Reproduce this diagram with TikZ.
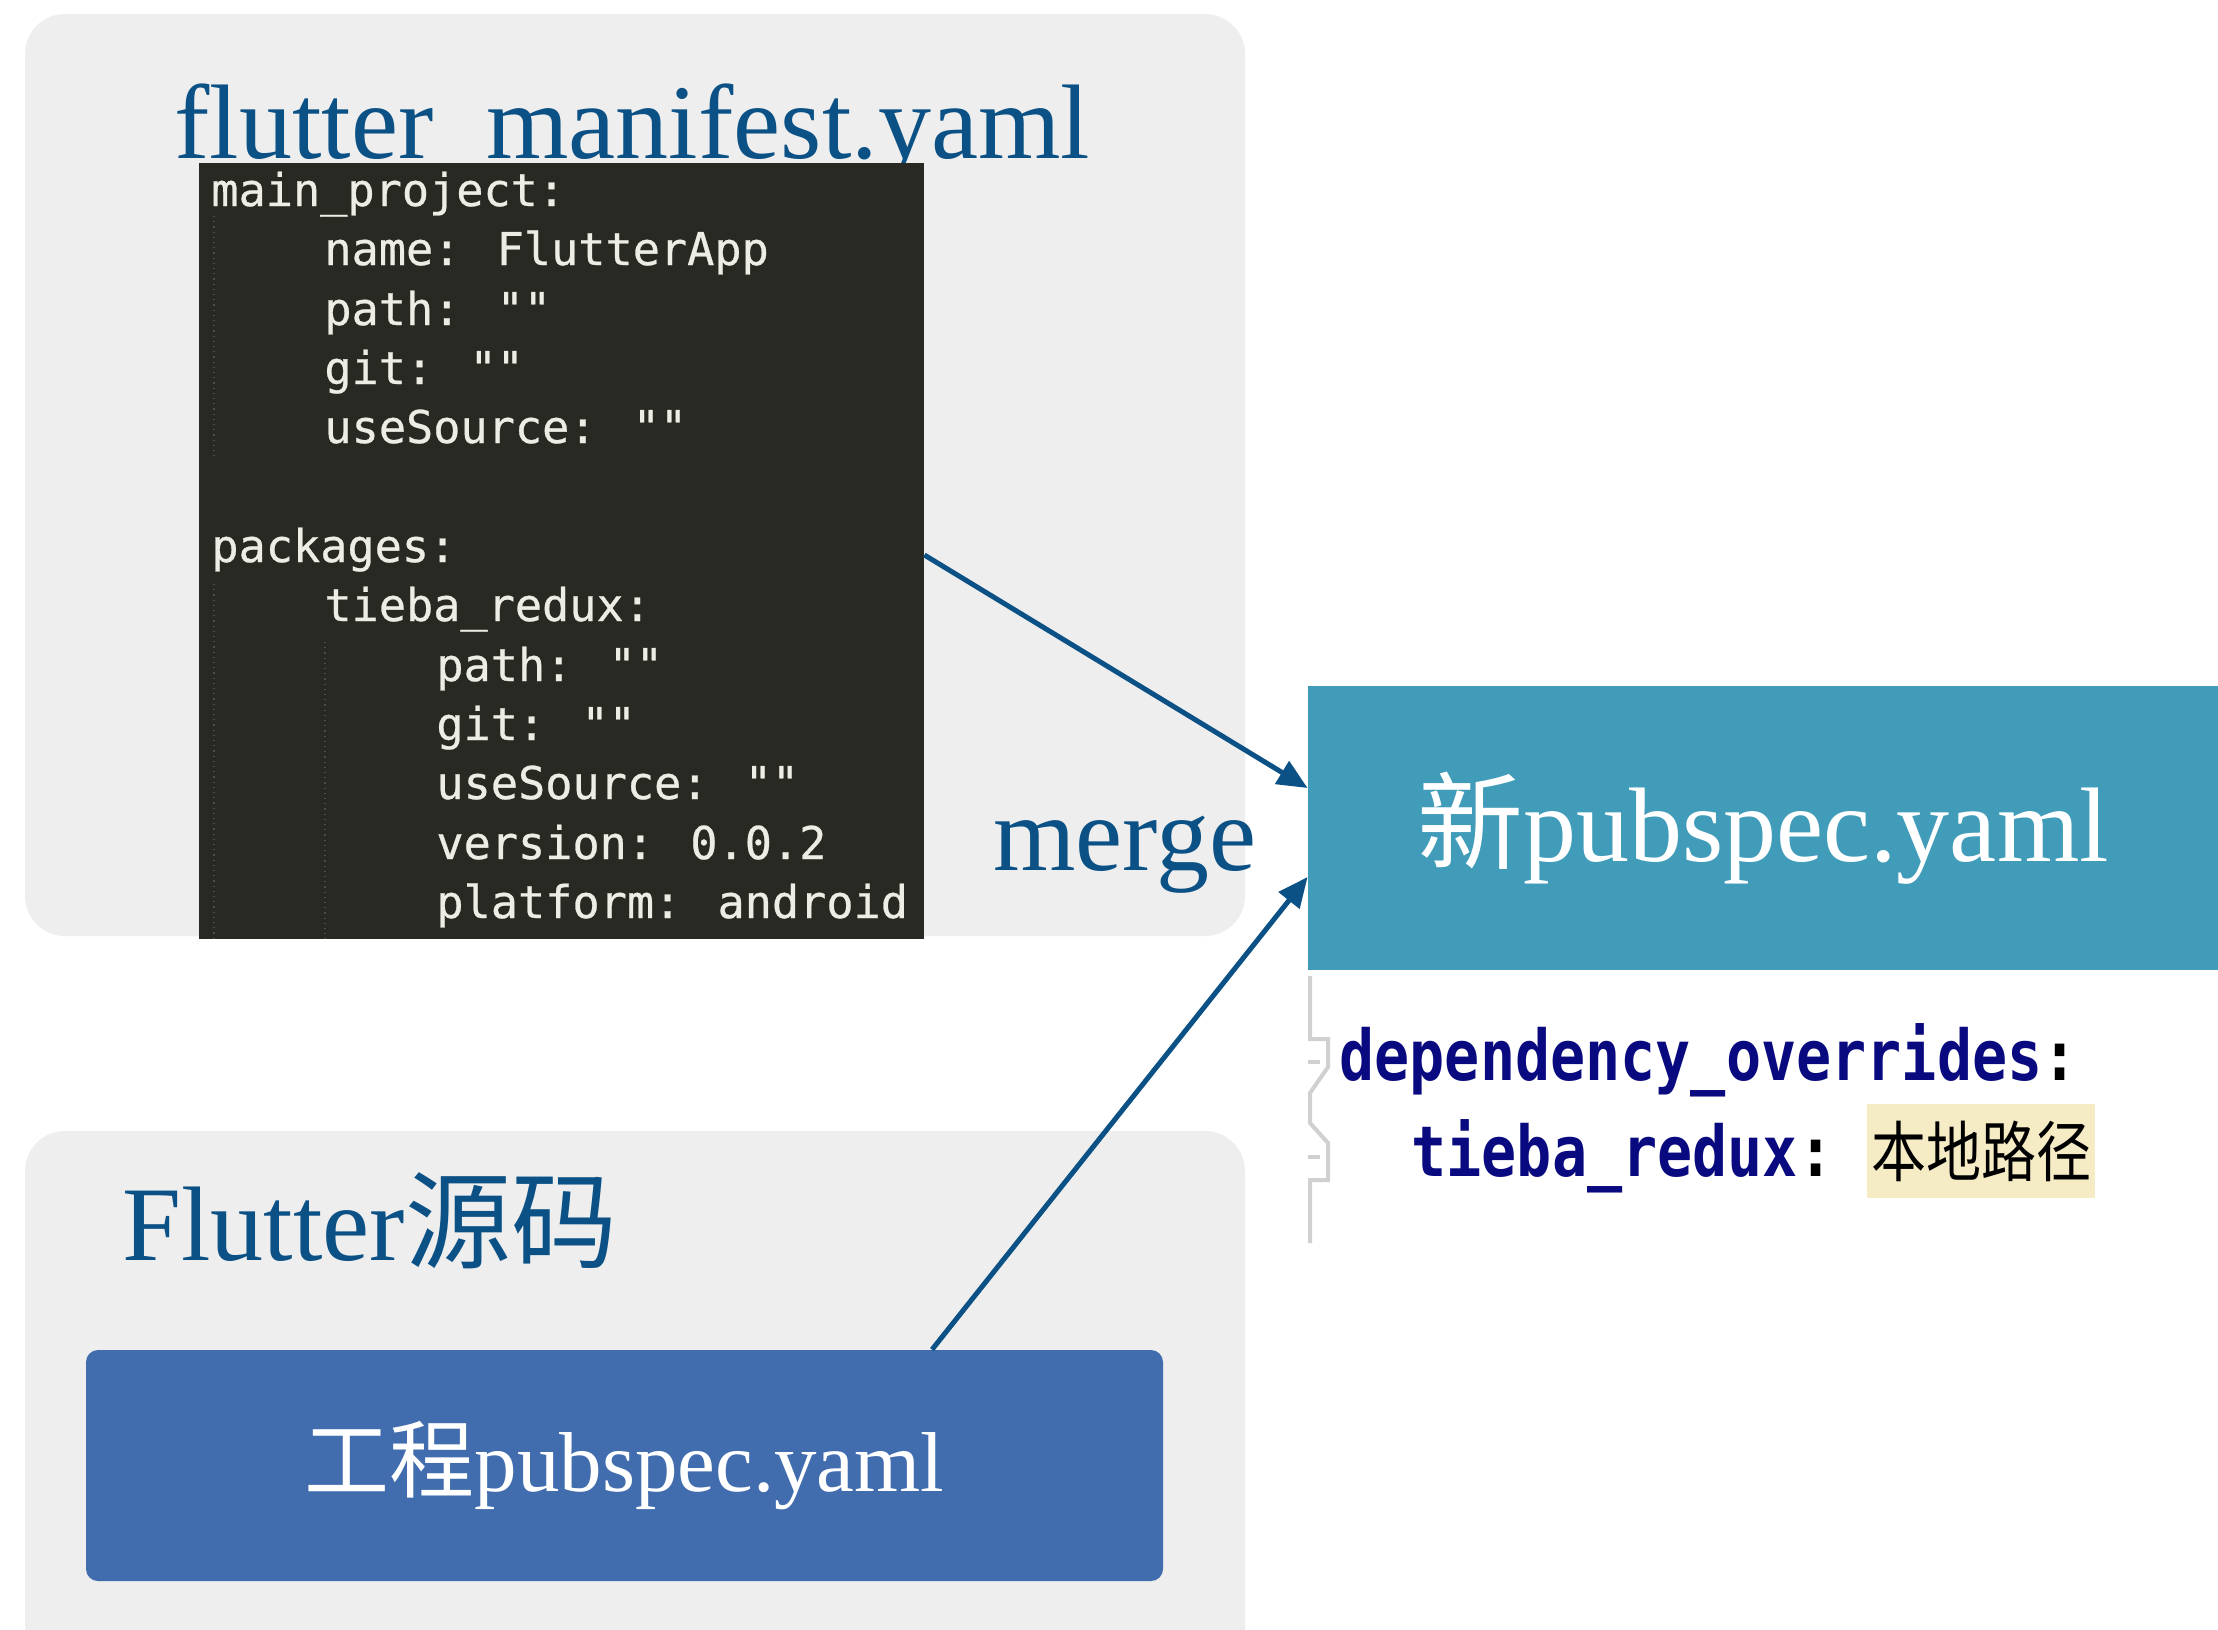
\documentclass[tikz,border=0pt]{standalone}
\usepackage{fontspec}
\usepackage{graphicx}
\setmainfont{Liberation Serif}
\newfontfamily\cjk{Noto Sans CJK SC}
\newfontfamily\codefont[FakeBold=0.6]{DejaVu Sans Mono}
\newfontfamily\idefont{DejaVu Sans Mono}
\usetikzlibrary{arrows.meta,calc}
\definecolor{panelgray}{HTML}{EEEEEE}
\definecolor{titleblue}{HTML}{0B5185}
\definecolor{codebg}{HTML}{282923}
\definecolor{codefg}{HTML}{EDEDE5}
\definecolor{guide}{HTML}{4E4E48}
\definecolor{teal}{HTML}{409CB9}
\definecolor{projblue}{HTML}{416DAE}
\definecolor{navy}{HTML}{0A0A80}
\definecolor{hilite}{HTML}{F5EBC4}
\definecolor{foldgray}{HTML}{D0D0D0}
\tikzset{
  panel/.style={fill=panelgray, rounded corners=20pt},
  bigtitle/.style={anchor=base west, inner sep=0pt, text=titleblue, font=\fontsize{53pt}{60pt}\selectfont},
  codeline/.style={anchor=base west, inner sep=0pt, text=codefg, font=\codefont\fontsize{22.6pt}{28pt}\selectfont},
  ideline/.style={anchor=base west, inner sep=0pt, font=\idefont\bfseries\fontsize{29.2pt}{34pt}\selectfont},
  indentguide/.style={draw=guide, line width=0.6pt, dotted},
  mergearrow/.style={draw=titleblue, line width=2.5pt, -{Triangle[length=15pt,width=13pt]}},
}
\begin{document}
\begin{tikzpicture}[x=0.5pt,y=-0.5pt]
\useasboundingbox[fill=white] (0,0) rectangle (2218,1629);
% panels
\path[panel] (25,14) rectangle (1245,936);
\path[panel] (25,1131) rectangle (1245,1760);
% title top (underscore hidden under the code box, as in the reference)
\node[bigtitle] (title1) at (174,158) {flutter\_manifest.yaml};
% code box
\node[fill=codebg, minimum width=362.5pt, minimum height=388pt, inner sep=0pt] (codebox) at (561.5,551) {};
\draw[indentguide] (214,216) -- (214,456);
\draw[indentguide] (214,584) -- (214,939);
\draw[indentguide] (325,642) -- (325,939);
\node[codeline] (c1) at (211,206) {main\_project:};
\node[codeline] (c2) at (324,265) {name: FlutterApp};
\node[codeline] (c3) at (324,325) {path: ""};
\node[codeline] (c4) at (324,384) {git: ""};
\node[codeline] (c5) at (324,443) {useSource: ""};
\node[codeline] (c6) at (211,562) {packages:};
\node[codeline] (c7) at (324,621) {tieba\_redux:};
\node[codeline] (c8) at (436,681) {path: ""};
\node[codeline] (c9) at (436,740) {git: ""};
\node[codeline] (c10) at (436,799) {useSource: ""};
\node[codeline] (c11) at (436,859) {version: 0.0.2};
\node[codeline] (c12) at (436,918) {platform: android};
% merge label
\node[bigtitle] (merge) at (993,870) {merge};
% new pubspec box
\node[fill=teal, minimum width=455pt, minimum height=142pt, inner sep=0pt, text=white,
      font=\fontsize{53pt}{60pt}\selectfont] (newbox) at (1763,828) {{\cjk 新}pubspec.yaml};
% bottom title
\node[bigtitle] (title2) at (122,1260) {Flutter{\cjk 源码}};
% project box
\node[fill=projblue, rounded corners=6pt, minimum width=538.5pt, minimum height=115.5pt, inner sep=0pt, text=white,
      font=\fontsize{42.5pt}{50pt}\selectfont] (projbox) at (624.5,1465.5) {{\cjk 工程}pubspec.yaml};
% arrows
\draw[mergearrow] ([yshift=-2pt]codebox.east) -- ([yshift=20pt]newbox.west);
\draw[mergearrow] ([xshift=153.75pt]projbox.north) -- ([yshift=-24.5pt]newbox.west);
% IDE snippet
\draw[foldgray, line width=2pt]
  (1310,976) -- (1310,1039) -- (1328,1039) -- (1328,1067) -- (1310,1093) -- (1310,1123)
  -- (1328,1143) -- (1328,1180) -- (1310,1180) -- (1310,1243);
\draw[foldgray, line width=2pt] (1308,1062) -- (1320,1062);
\draw[foldgray, line width=2pt] (1308,1157) -- (1320,1157);
\node[fill=hilite, minimum width=114pt, minimum height=47pt, inner sep=0pt] (hl) at (1981,1151) {};
\node[ideline] (d1) at (1339,1080) {\scalebox{1}[1.2]{\textcolor{navy}{dependency\_overrides}:}};
\node[ideline] (d2) at (1411,1176) {\scalebox{1}[1.2]{\textcolor{navy}{tieba\_redux}:}};
\node[inner sep=0pt, font=\cjk\fontsize{27.5pt}{30pt}\selectfont] (d3) at (hl.center) {\scalebox{1}[1.2]{本地路径}};
\end{tikzpicture}
\end{document}
